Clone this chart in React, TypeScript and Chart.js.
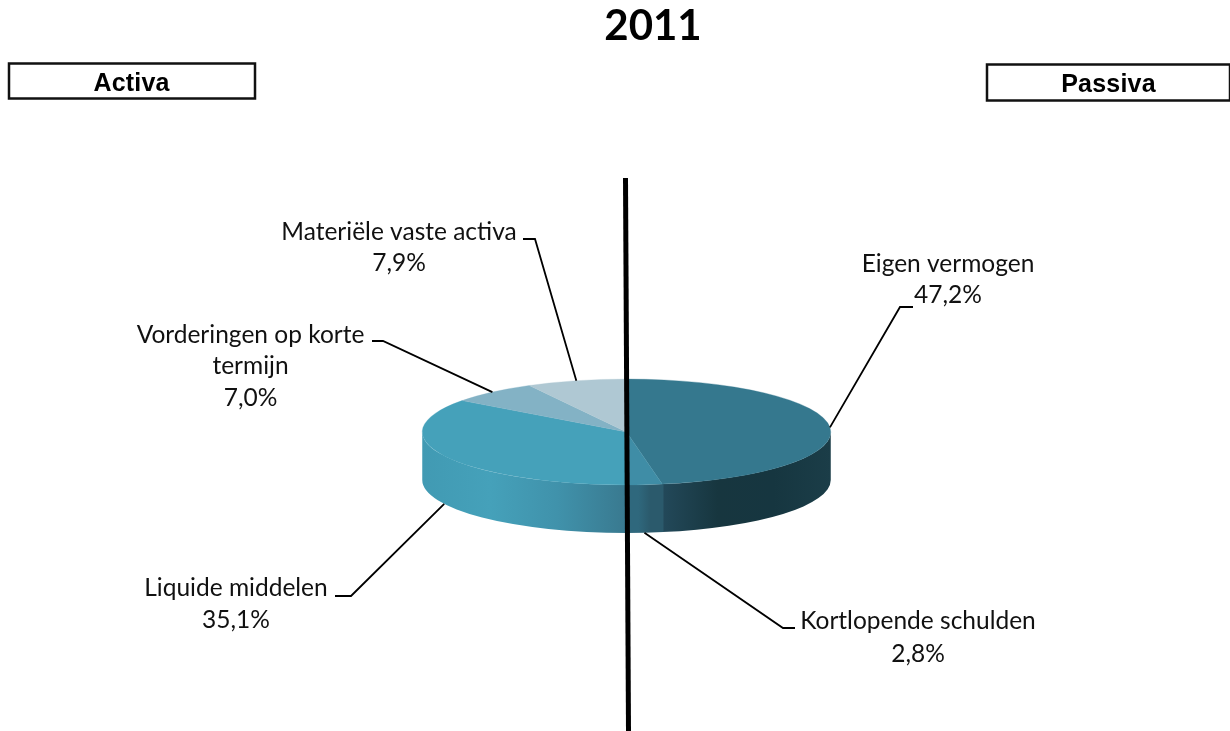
import React, { useEffect, useRef } from "react";
import { Chart, registerables } from "chart.js";

Chart.register(...registerables);

const titleText = "2011";
const sideLabels = ["Activa", "Passiva"];
const categories = [
  "Eigen vermogen",
  "Kortlopende schulden",
  "Liquide middelen",
  "Vorderingen op korte termijn",
  "Materiële vaste activa",
];
const shares = [47.2, 2.8, 35.1, 7.0, 7.9];
const shareLabels = ["47,2%", "2,8%", "35,1%", "7,0%", "7,9%"];
const labelLines = [
  ["Eigen vermogen"],
  ["Kortlopende schulden"],
  ["Liquide middelen"],
  ["Vorderingen op korte", "termijn"],
  ["Materiële vaste activa"],
];
const topColors = ["#35788e", "#3f8da6", "#45a1ba", "#83b2c5", "#afc8d3"];
const sideStops = [
  ["#23495a", "#17363f", "#163640", "#1b3d48"],
  ["#2f687d", "#2f687d", "#2b5a6c", "#2b5a6c"],
  ["#419ab3", "#45a1ba", "#4092ab", "#39798f"],
  ["#6d95a5", "#6d95a5", "#6d95a5", "#6d95a5"],
  ["#93a8b1", "#93a8b1", "#93a8b1", "#93a8b1"],
];

// Layout of the page
const W = 1230;
const H = 731;
const CENTER_X = 626.5;
const CENTER_Y = 432;
const RADIUS = 204.5;
const SQUASH = 53 / 204.5;
const DEPTH = 48;
const LABEL_FONT = '24.5px Lato, "Open Sans", sans-serif';
const LABEL_LAYOUT = [
  { cx: 948, y0: 264, step: 31, elbow: [[913, 307], [900, 307]] },
  { cx: 918, y0: 621, step: 33, elbow: [[795, 628], [783, 628]] },
  { cx: 236, y0: 588, step: 32, elbow: [[335, 596], [351, 596]] },
  { cx: 250.5, y0: 335, step: 31.5, elbow: [[372, 341], [383, 341]] },
  { cx: 399, y0: 232, step: 31, elbow: [[523, 239], [535, 239]] },
];
const BOXES = [
  { x: 9, y: 63.5, w: 246, h: 35, tx: 131.5, ty: 84 },
  { x: 987, y: 64.5, w: 243, h: 36, tx: 1108.5, ty: 85 },
];

const pie3d = {
  id: "pie3d",
  beforeDatasetsDraw(chart: any) {
    const ctx = chart.ctx as CanvasRenderingContext2D;
    const arcs = chart.getDatasetMeta(0).data as any[];

    // page furniture
    ctx.save();
    ctx.fillStyle = "#000";
    ctx.textAlign = "center";
    ctx.textBaseline = "middle";
    ctx.font = 'bold 42px Lato, "Open Sans", sans-serif';
    ctx.fillText(titleText, 653, 26);
    ctx.font = 'bold 25px "Liberation Sans", Arial, sans-serif';
    (ctx as any).letterSpacing = "0.2px";
    BOXES.forEach((b, i) => {
      ctx.strokeStyle = "#111";
      ctx.lineWidth = 2.5;
      ctx.strokeRect(b.x, b.y, b.w, b.h);
      ctx.fillText(sideLabels[i], b.tx, b.ty);
    });
    (ctx as any).letterSpacing = "0px";
    ctx.restore();

    // side wall of the disc
    arcs.forEach((arc, i) => {
      const { x, startAngle, endAngle, outerRadius } = arc.getProps(
        ["x", "startAngle", "endAngle", "outerRadius"],
        true
      );
      const a0 = Math.max(startAngle, 0);
      const a1 = Math.min(endAngle, Math.PI);
      if (a1 <= a0) return;
      const ry = outerRadius * SQUASH;
      const xa = x + outerRadius * Math.cos(a0);
      const xb = x + outerRadius * Math.cos(a1);
      const grad = ctx.createLinearGradient(Math.min(xa, xb), 0, Math.max(xa, xb), 0);
      const stops = sideStops[i];
      grad.addColorStop(0, stops[0]);
      grad.addColorStop(0.33, stops[1]);
      grad.addColorStop(0.66, stops[2]);
      grad.addColorStop(1, stops[3]);
      const seam = 0.006;
      ctx.save();
      ctx.fillStyle = grad;
      ctx.beginPath();
      ctx.ellipse(x, CENTER_Y, outerRadius, ry, 0, Math.max(a0 - seam, 0), a1);
      ctx.ellipse(x, CENTER_Y + DEPTH, outerRadius, ry, 0, a1, Math.max(a0 - seam, 0), true);
      ctx.closePath();
      ctx.fill();
      ctx.restore();
    });

    // squashed top face, drawn by the library's own arc elements
    ctx.save();
    ctx.translate(CENTER_X, CENTER_Y);
    ctx.scale(1, SQUASH);
    ctx.translate(-CENTER_X, -CENTER_Y);
    arcs.forEach((arc) => arc.draw(ctx));
    ctx.restore();

    // leader lines and labels
    ctx.save();
    ctx.strokeStyle = "#000";
    ctx.lineWidth = 1.8;
    ctx.fillStyle = "#111";
    ctx.font = LABEL_FONT;
    ctx.textAlign = "center";
    ctx.textBaseline = "middle";
    arcs.forEach((arc, i) => {
      const { x, startAngle, endAngle, outerRadius } = arc.getProps(
        ["x", "startAngle", "endAngle", "outerRadius"],
        true
      );
      const mid = (startAngle + endAngle) / 2;
      const sin = Math.sin(mid);
      const ax = x + outerRadius * Math.cos(mid);
      const ay = CENTER_Y + outerRadius * SQUASH * sin + (sin > 0 ? DEPTH : 0);
      const l = LABEL_LAYOUT[i];
      ctx.beginPath();
      ctx.moveTo(l.elbow[0][0], l.elbow[0][1]);
      ctx.lineTo(l.elbow[1][0], l.elbow[1][1]);
      ctx.lineTo(ax, ay);
      ctx.stroke();
      const lines = [...labelLines[i], shareLabels[i]];
      lines.forEach((t, k) => ctx.fillText(t, l.cx, l.y0 + k * l.step));
    });
    ctx.restore();

    // central divider
    ctx.save();
    ctx.strokeStyle = "#000";
    ctx.lineWidth = 5;
    ctx.beginPath();
    ctx.moveTo(625.5, 178);
    ctx.lineTo(628.5, 731);
    ctx.stroke();
    ctx.restore();

    return false;
  },
};

export default function App() {
  const ref = useRef<HTMLCanvasElement | null>(null);
  useEffect(() => {
    const chart = new Chart(ref.current as HTMLCanvasElement, {
      type: "pie",
      data: {
        labels: categories,
        datasets: [
          {
            data: shares,
            backgroundColor: topColors,
            borderColor: topColors,
            borderWidth: 0.5,
          },
        ],
      },
      options: {
        responsive: false,
        animation: false,
        layout: {
          padding: {
            left: CENTER_X - RADIUS,
            right: W - CENTER_X - RADIUS,
            top: CENTER_Y - RADIUS,
            bottom: H - CENTER_Y - RADIUS,
          },
        },
        plugins: {
          legend: { display: false },
          tooltip: { enabled: false },
          title: { display: false },
        },
      },
      plugins: [pie3d],
    } as any);
    return () => chart.destroy();
  }, []);
  return (
    <div style={{ position: "absolute", left: 0, top: 0, width: W, height: H, background: "#fff" }}>
      <canvas ref={ref} width={W} height={H} style={{ display: "block" }} />
    </div>
  );
}
